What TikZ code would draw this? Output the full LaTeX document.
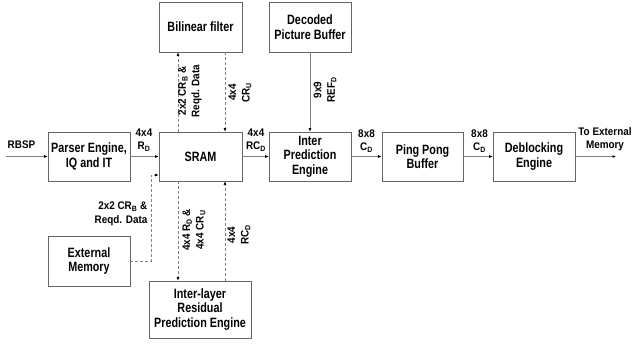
\documentclass[tikz,border=0pt]{standalone}
\usepackage{fontspec}
\setmainfont{Liberation Sans}
\newfontfamily\boxfont[FakeStretch=0.8]{Liberation Sans}
\newfontfamily\lblfont[FakeStretch=0.9]{Liberation Sans}
\usetikzlibrary{arrows.meta}
\begin{document}
\begin{tikzpicture}[x=1pt,y=-1pt,
  blk/.style={draw=black!60,line width=0.6pt,minimum width=82pt,minimum height=49pt,align=center,font=\boxfont\fontsize{13.5}{14.5}\selectfont\bfseries,inner sep=1pt},
  lbl/.style={font=\lblfont\fontsize{11}{13.5}\selectfont\bfseries,align=center,inner sep=0pt},
  con/.style={draw=black!50,line width=0.6pt,-{Latex[length=3.5pt,width=2.8pt,color=black]}},
  dcon/.style={con,dash pattern=on 3pt off 2pt}]
\useasboundingbox (0,0) rectangle (634,343);
\node[blk] (parser) at (89,156.5) {Parser Engine,\\IQ and IT};
\node[blk,minimum width=83pt] (sram) at (200.5,156.5) {SRAM};
\node[blk] (inter) at (310,156.5) {Inter\\Prediction\\Engine};
\node[blk,minimum width=81pt] (ping) at (422.5,156.5) {Ping Pong\\Buffer};
\node[blk] (deb) at (534,156.5) {Deblocking\\Engine};
\node[blk,minimum width=83pt,minimum height=50pt] (bil) at (200.5,27) {Bilinear filter};
\node[blk,minimum height=50pt] (dpb) at (310,27) {Decoded\\Picture Buffer};
\node[blk,minimum height=50pt] (ext) at (89,261) {External\\Memory};
\node[blk,minimum width=102pt,minimum height=57pt] (il) at (200,309.5) {Inter-layer\\Residual\\Prediction Engine};
\coordinate (rin) at (6,156.5);
\coordinate (rout) at (616,156.5);
\coordinate (ec) at (151,261);
\coordinate (ed) at (151,175);
% solid connectors
\draw[con] (rin) -- (parser.west);
\draw[con] (parser.east) -- (sram.west);
\draw[con] (sram.east) -- (inter.west);
\draw[con] (inter.east) -- (ping.west);
\draw[con] (ping.east) -- (deb.west);
\draw[con] (deb.east) -- (rout);
\draw[con] (dpb.south) -- (inter.north);
% dashed connectors
\draw[dcon] (sram.north -| 178,0) -- (bil.south -| 178,0);
\draw[dcon] (bil.south -| 225,0) -- (sram.north -| 225,0);
\draw[dcon] (sram.south -| 178,0) -- (il.north -| 178,0);
\draw[dcon] (il.north -| 225,0) -- (sram.south -| 225,0);
\draw[dcon] (ext.east) -- (ec) -- (ed) -- (ed -| sram.west);
% labels
\node[lbl] (lrbsp) at (21.5,144.5) {RBSP};
\node[lbl] (l1) at (144,140) {4x4\\R\textsubscript{D}};
\node[lbl] (l2) at (256,140) {4x4\\RC\textsubscript{D}};
\node[lbl] (l3) at (366.5,141) {8x8\\C\textsubscript{D}};
\node[lbl] (l4) at (479.5,141) {8x8\\C\textsubscript{D}};
\node[lbl] (l5) at (605,139) {To External\\Memory};
\node[lbl,rotate=90] (l6) at (190,91) {2x2 CR\textsubscript{B} \&\\Reqd. Data};
\node[lbl,rotate=90] (l7) at (240,92.5) {4x4\\CR\textsubscript{U}};
\node[lbl,rotate=90] (l8) at (325,90) {9x9\\REF\textsubscript{D}};
\node[lbl,rotate=90] (l9) at (194,230) {4x4 R\textsubscript{D} \&\\4x4 CR\textsubscript{U}};
\node[lbl,rotate=90] (l10) at (239,235) {4x4\\RC\textsubscript{D}};
\node[lbl,align=right] (l11) at (121,214) {2x2 CR\textsubscript{B} \&\\Reqd. Data};
\end{tikzpicture}
\end{document}
